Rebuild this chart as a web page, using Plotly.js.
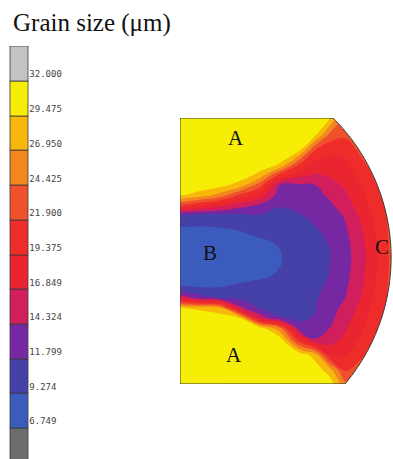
<!DOCTYPE html>
<html><head><meta charset="utf-8">
<script src="https://cdn.plot.ly/plotly-3.0.1.min.js"></script>
<style>html,body{margin:0;padding:0;background:#fff}</style>
</head><body><div id="chart" style="width:393px;height:459px"></div>
<script>
// ---- data (grain size in µm on a coarse grid) ----
const gridX = [180, 200, 220, 240, 260, 280, 300, 315, 330, 345, 360, 375, 392];
const gridY = [118, 135, 150, 165, 175, 185, 195, 205, 215, 228, 240, 252, 264, 276, 288, 298, 308, 318, 328, 340, 355, 370, 384];
const grainSize = [
  [31, 31, 31, 31, 31, 31, 31, 31, 29.5, 24, 24, 24, 24],
  [31, 31, 31, 31, 31, 31, 31, 30, 23.5, 22.5, 23.5, 24, 24],
  [31, 31, 31, 31, 31, 31, 29.6, 22, 20, 20, 22.5, 23.5, 24],
  [31, 31, 31, 31, 30.6, 29.2, 21, 18.5, 18.3, 18.8, 21, 23, 23.8],
  [31, 31, 31, 30.8, 28.8, 21, 17.5, 16.5, 17.2, 18, 20.2, 22.3, 23.6],
  [30.8, 31, 30.3, 28.5, 23, 14, 14, 14.3, 16, 17.2, 19.4, 21.6, 23.4],
  [29.8, 28.5, 26, 21.5, 18.5, 12.9, 13.2, 13.5, 14.8, 16.4, 18.6, 21, 23.2],
  [22.5, 20, 18, 15.5, 14, 12, 12.5, 12.9, 13.9, 15.7, 17.9, 20.4, 23],
  [11.6, 11.3, 11.2, 11.3, 11.7, 11.2, 11.7, 12.3, 13.2, 14.6, 17.2, 19.9, 22.9],
  [9.1, 9.0, 9.2, 9.6, 10.3, 10.4, 11, 11.7, 12.5, 14.0, 16.5, 19.4, 22.8],
  [8.1, 7.8, 7.9, 8.4, 9.1, 9.6, 10.5, 11.3, 12, 13.6, 16, 19, 22.7],
  [7.6, 7.3, 7.3, 7.8, 8.6, 9.2, 10.2, 11.1, 11.8, 13.4, 15.7, 18.8, 22.6],
  [7.6, 7.3, 7.3, 7.8, 8.6, 9.2, 10.2, 11.1, 11.8, 13.4, 15.7, 18.8, 22.6],
  [8.1, 7.8, 7.9, 8.4, 9.0, 9.5, 10.4, 11.2, 11.9, 13.6, 15.9, 19, 22.7],
  [9.6, 9.4, 9.4, 9.9, 10, 10.2, 10.7, 11.4, 12.2, 13.9, 16.3, 19.4, 22.8],
  [17, 13, 11.8, 11.2, 10.8, 10.8, 11, 11.6, 12.6, 14.3, 16.8, 19.8, 22.9],
  [29.6, 29, 27.5, 15, 11.6, 11.3, 11.3, 11.7, 13.1, 15.2, 17.4, 20.3, 23],
  [31, 31, 31, 29.5, 16, 11.9, 11.6, 11.9, 13.7, 15.8, 18, 20.9, 23.2],
  [31, 31, 31, 31, 30.5, 25, 12.2, 12.8, 14.4, 16.5, 18.7, 21.5, 23.4],
  [31, 31, 31, 31, 31, 31, 20, 14.5, 15.8, 17.5, 19.7, 22.3, 23.6],
  [31, 31, 31, 31, 31, 31, 31, 28.4, 19, 19.3, 21.3, 23, 24],
  [31, 31, 31, 31, 31, 31, 31, 31, 28, 21.5, 23, 24, 24],
  [31, 31, 31, 31, 31, 31, 31, 31, 31, 25, 24, 24, 24]
];
const tickLabels = ["6.749", "9.274", "11.799", "14.324", "16.849", "19.375", "21.900", "24.425", "26.950", "29.475", "32.000"];
const regionLabels = ["A", "B", "C", "A"];

// ---- styling / configuration ----
const tickVals = tickLabels.map(Number);
const levelStep = 2.5251;
const bandColors = [
  '#6d6d6d', '#6d6d6d', '#3b5cbd', '#4640a9', '#7528a2', '#d11f5d', '#ea2431',
  '#ee2d2b', '#f0512d', '#f2871f', '#f8b80b', '#f6ee05', '#c3c3c3', '#ffffff'
];
const nBands = bandColors.length;
const colorscale = [];
bandColors.forEach((c, k) => {
  const lo = Math.max(0, (k - 0.5) / (nBands - 1));
  const hi = Math.min(1, (k + 0.5) / (nBands - 1));
  colorscale.push([lo, c]);
  colorscale.push([hi, c]);
});

// domain outline geometry (pixel-like data units, y downward)
const arcC = [194.7, 257.5], arcR = 196.4;
const topCorner = [333, 118], botCorner = [345, 384];
function arcPts() {
  const a0 = Math.atan2(topCorner[1] - arcC[1], topCorner[0] - arcC[0]);
  const a1 = Math.atan2(botCorner[1] - arcC[1], botCorner[0] - arcC[0]);
  const pts = [];
  for (let i = 0; i <= 80; i++) {
    const a = a0 + (a1 - a0) * i / 80;
    pts.push((arcC[0] + arcR * Math.cos(a)).toFixed(2) + ',' + (arcC[1] + arcR * Math.sin(a)).toFixed(2));
  }
  return pts;
}
const arc = arcPts();
const maskPath = 'M' + arc.join(' L') + ' L420,384 L420,100 L' + topCorner.join(',') + ' Z';
const outlinePath = 'M180,118 L' + arc.join(' L') + ' L180,384 Z';

const labelPos = [[236, 138], [210, 253], [382, 247], [234, 355]];

const trace = {
  type: 'contour',
  x: gridX, y: gridY, z: grainSize,
  autocontour: false,
  contours: {start: tickVals[0] - levelStep, end: tickVals[tickVals.length - 1] + levelStep, size: levelStep,
             coloring: 'fill', showlines: false},
  line: {smoothing: 1.3, width: 0},
  colorscale: colorscale,
  showscale: true,
  hoverinfo: 'skip',
  colorbar: {
    thickness: 18, thicknessmode: 'pixels',
    len: 451, lenmode: 'pixels',
    x: 10 / 393, xref: 'container', xanchor: 'left', xpad: 0,
    y: 1 - 50.1 / 459, yref: 'container', yanchor: 'top', ypad: 0,
    outlinewidth: 0,
    tickmode: 'array', tickvals: tickVals, ticktext: tickLabels,
    ticks: 'outside', ticklen: 7, tickcolor: 'rgba(0,0,0,0)',
    ticklabelposition: 'outside top', ticklabeloverflow: 'allow',
    tickprefix: '\u00a0',
    tickfont: {family: 'DejaVu Sans Mono', size: 9, color: '#444'}
  }
};

const layout = {
  width: 393, height: 459,
  margin: {l: 180, r: 1, t: 118, b: 75, autoexpand: false},
  paper_bgcolor: '#fff', plot_bgcolor: '#fff',
  title: {text: 'Grain size (μm)', x: 13 / 393, xanchor: 'left', xref: 'container',
          y: 1 - 22 / 459, yanchor: 'middle', yref: 'container',
          font: {family: 'Liberation Serif', size: 25, color: '#111'}},
  xaxis: {range: [180, 392], visible: false, fixedrange: true},
  yaxis: {range: [384, 118], visible: false, fixedrange: true},
  shapes: [
    {type: 'path', path: maskPath, xref: 'x', yref: 'y', fillcolor: '#fff', line: {width: 0}, layer: 'above'},
    {type: 'path', path: outlinePath, xref: 'x', yref: 'y', fillcolor: 'rgba(0,0,0,0)', line: {color: '#3a3a3a', width: 1}, layer: 'above'}
  ],
  annotations: regionLabels.map((t, i) => ({
    text: t, x: labelPos[i][0], y: labelPos[i][1], xref: 'x', yref: 'y', showarrow: false,
    font: {family: 'Liberation Serif', size: 21, color: '#111'}
  })),
  showlegend: false
};

Plotly.newPlot('chart', [trace], layout, {displayModeBar: false, staticPlot: true}).then(gd => {
  // thin dark borders round each colour band of the colour bar, as in the original legend.
  // Plotly stacks the band rectangles (each reaches the top of the bar), so trim every
  // rectangle to its own band first; the blank top half-cell gets no border.
  const rects = Array.from(gd.querySelectorAll('rect.cbfill'));
  if (rects.length < 2) return;
  const info = rects.map(r => { const b = r.getBBox(); return {r: r, top: b.y, bottom: b.y + b.height}; });
  const bottoms = new Set(info.map(d => Math.round(d.bottom * 10)));
  if (bottoms.size !== info.length) return;
  info.sort((a, b) => b.bottom - a.bottom);
  info.forEach((d, i) => {
    const above = info[i + 1];
    const newTop = above ? above.bottom : d.top;
    d.r.setAttribute('y', newTop);
    d.r.setAttribute('height', Math.max(0, d.bottom - newTop));
    if (i === info.length - 1) { d.r.style.stroke = 'none'; return; }
    d.r.style.stroke = '#3a3a3a';
    d.r.style.strokeWidth = '0.8px';
  });
});
</script></body></html>
